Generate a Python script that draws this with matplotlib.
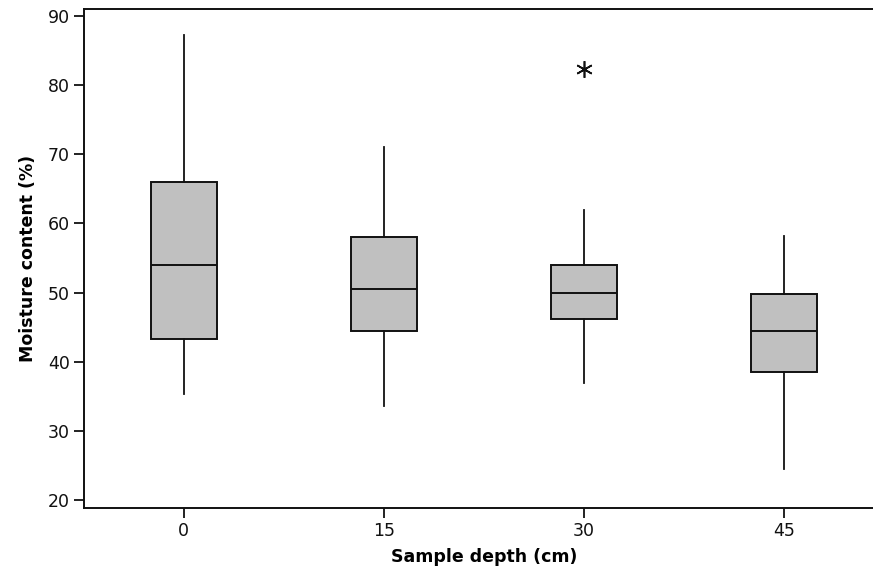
import matplotlib
matplotlib.use("Agg")
import matplotlib.pyplot as plt

depths = ["0", "15", "30", "45"]
whisker_low = [35.4, 33.6, 37.0, 24.5]
q1 = [43.3, 44.45, 46.15, 38.55]
median = [54.0, 50.45, 50.0, 44.5]
q3 = [66.0, 58.1, 54.0, 49.75]
whisker_high = [87.2, 71.1, 61.9, 58.2]
outliers = [[], [], [82.35], []]

yticks = [20, 30, 40, 50, 60, 70, 80, 90]

plt.rcParams['font.family'] = ['DejaVu Sans']

fig = plt.figure(figsize=(8.73, 5.70), dpi=100)
ax = fig.add_axes([83.7 / 873, 62.3 / 570, 800.3 / 873, 498.7 / 570])

stats = []
for i, d in enumerate(depths):
    stats.append(dict(label=d, whislo=whisker_low[i], q1=q1[i], med=median[i],
                      q3=q3[i], whishi=whisker_high[i], fliers=outliers[i]))

positions = list(range(len(depths)))
ax.bxp(stats, positions=positions, widths=0.33, patch_artist=True, showcaps=False,
       boxprops=dict(facecolor="#c0c0c0", edgecolor="#111111", linewidth=1.4),
       medianprops=dict(color="#111111", linewidth=1.4),
       whiskerprops=dict(color="#111111", linewidth=1.3),
       flierprops=dict(marker=(6, 2, 0), markersize=12, markeredgecolor="#111111",
                       markeredgewidth=1.2, linestyle="none"))

ax.set_xlim(-0.5, 3.5)
ax.set_ylim(18.9, 91.0)
ax.set_yticks(yticks)
ax.set_xticks(positions)
ax.set_xticklabels(depths)
ax.tick_params(axis="both", direction="out", length=7, width=1.3, labelsize=12.5,
               colors="#111111", pad=3)
for s in ["left", "bottom", "top"]:
    ax.spines[s].set_linewidth(1.4)
    ax.spines[s].set_color("#111111")
ax.spines["right"].set_visible(False)

ax.set_xlabel("Sample depth (cm)", fontsize=12.5, fontweight="bold", labelpad=6)
ax.set_ylabel("Moisture content (%)", fontsize=12.5, fontweight="bold", labelpad=8)

fig.savefig("out.png", dpi=100)
